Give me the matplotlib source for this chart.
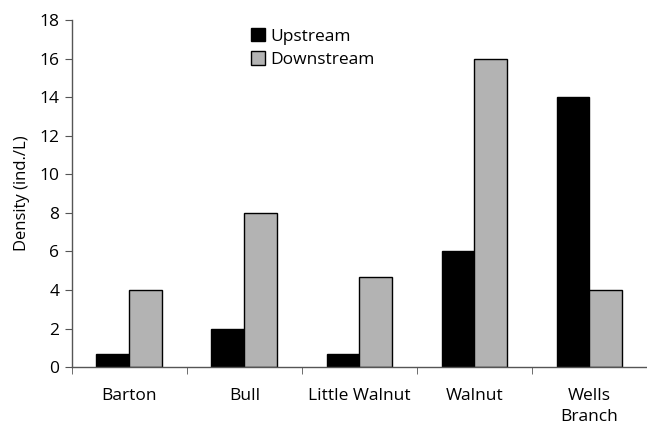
import matplotlib.pyplot as plt
import numpy as np

plt.rcParams['font.family'] = ['Open Sans', 'DejaVu Sans']

sites = ["Barton", "Bull", "Little Walnut", "Walnut", "Wells\nBranch"]
upstream = [0.7, 2, 0.7, 6, 14]
downstream = [4, 8, 4.7, 16, 4]

fig = plt.figure(figsize=(6.47, 4.26), dpi=100)
ax = fig.add_axes([0.111, 0.138, 0.889, 0.815])

x = np.arange(len(sites))
w = 0.286
ax.bar(x - w / 2, upstream, w, color="black", edgecolor="black", linewidth=1, label="Upstream")
ax.bar(x + w / 2, downstream, w, color="#b3b3b3", edgecolor="black", linewidth=1, label="Downstream")

ax.set_xlim(-0.5, len(sites) - 0.5)
ax.set_ylim(0, 18)
ax.set_yticks(range(0, 19, 2))
ax.set_xticks(x)
ax.set_xticklabels(sites, fontsize=12.5, linespacing=1.45)
ax.set_xticks(np.arange(len(sites)) - 0.5, minor=True)
ax.tick_params(axis="x", which="major", length=0, pad=15)
ax.tick_params(axis="x", which="minor", length=5, direction="out", color="#555555")
ax.tick_params(axis="y", length=5, direction="out", color="#555555", labelsize=12.5, pad=4)
ax.set_ylabel("Density (ind./L)", fontsize=12, labelpad=7)

for s in ["top", "right"]:
    ax.spines[s].set_visible(False)
for s in ["left", "bottom"]:
    ax.spines[s].set_color("#555555")
    ax.spines[s].set_linewidth(1)

ax.legend(loc="upper left", bbox_to_anchor=(0.375, 0.955), bbox_transform=fig.transFigure,
          frameon=False, fontsize=12.5, handlelength=0.8, handleheight=0.8,
          handletextpad=0.3, labelspacing=0.4, borderpad=0)

plt.savefig("out.png", dpi=100)
